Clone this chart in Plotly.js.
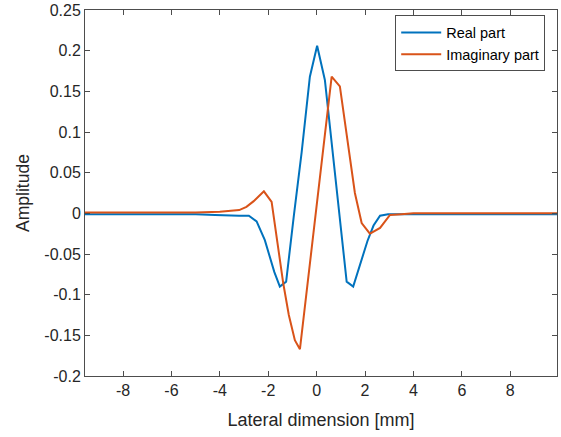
<!DOCTYPE html>
<html>
<head>
<meta charset="utf-8">
<script src="https://cdn.plot.ly/plotly-3.0.1.min.js"></script>
<style>html,body{margin:0;padding:0;background:#fff;}#chart{width:561px;height:437px;}</style>
</head>
<body>
<div id="chart"></div>
<script>
// Real part
const realX = [-9.57, -6, -5, -4.2, -3.6, -3.2, -2.8, -2.48, -2.14, -1.75, -1.52, -1.26, -0.95, -0.62, -0.28, 0.02, 0.34, 0.66, 0.96, 1.24, 1.51, 1.8, 2.1, 2.35, 2.62, 2.95, 4, 6, 9.93];
const realY = [-0.001, -0.001, -0.001, -0.002, -0.003, -0.003, -0.003, -0.010, -0.033, -0.072, -0.090, -0.084, -0.005, 0.075, 0.168, 0.206, 0.164, 0.075, -0.010, -0.084, -0.090, -0.062, -0.034, -0.015, -0.003, -0.001, -0.001, -0.001, -0.001];
// Imaginary part
const imagX = [-9.57, -6, -5, -4, -3.5, -3.2, -2.9, -2.6, -2.18, -1.86, -1.62, -1.38, -1.15, -0.9, -0.69, -0.38, -0.07, 0.27, 0.62, 0.96, 1.27, 1.58, 1.86, 2.2, 2.62, 3.03, 3.5, 4, 6, 9.93];
const imagY = [0.001, 0.001, 0.001, 0.002, 0.003, 0.004, 0.008, 0.015, 0.027, 0.014, -0.036, -0.086, -0.125, -0.156, -0.167, -0.088, -0.008, 0.078, 0.168, 0.156, 0.090, 0.025, -0.012, -0.025, -0.018, -0.002, -0.001, 0, 0, 0];

const xTickVals = [-8, -6, -4, -2, 0, 2, 4, 6, 8];
const xTickText = ['-8', '-6', '-4', '-2', '0', '2', '4', '6', '8'];
const yTickVals = [-0.2, -0.15, -0.1, -0.05, 0, 0.05, 0.1, 0.15, 0.2, 0.25];
const yTickText = ['-0.2', '-0.15', '-0.1', '-0.05', '0', '0.05', '0.1', '0.15', '0.2', '0.25'];

const traces = [
  {x: realX, y: realY, type: 'scatter', mode: 'lines', name: 'Real part',
   line: {color: '#0072BD', width: 2}},
  {x: imagX, y: imagY, type: 'scatter', mode: 'lines', name: 'Imaginary part',
   line: {color: '#D95319', width: 2}}
];

const axisCommon = {
  showline: true, linecolor: '#4d4d4d', linewidth: 1, mirror: 'ticks',
  ticks: 'inside', ticklen: 5, tickcolor: '#4d4d4d', showgrid: false, zeroline: false,
  tickfont: {family: 'Liberation Sans, Arial, sans-serif', size: 16, color: '#262626'}
};

const layout = {
  width: 561, height: 437,
  margin: {l: 85, r: 4, t: 10, b: 61},
  paper_bgcolor: '#ffffff', plot_bgcolor: '#ffffff',
  font: {family: 'Liberation Sans, Arial, sans-serif', color: '#262626'},
  showlegend: true,
  legend: {x: 0.975, y: 0.985, xanchor: 'right', yanchor: 'top',
    bordercolor: '#4d4d4d', borderwidth: 1, bgcolor: '#ffffff',
    font: {size: 14.5, color: '#000'}, itemwidth: 40, tracegroupgap: 0},
  xaxis: Object.assign({}, axisCommon, {
    range: [-9.57, 9.93], tickvals: xTickVals, ticktext: xTickText,
    title: {text: 'Lateral dimension [mm]', font: {size: 18, color: '#262626'}, standoff: 15}
  }),
  yaxis: Object.assign({}, axisCommon, {
    range: [-0.2, 0.25], tickvals: yTickVals, ticktext: yTickText,
    title: {text: 'Amplitude', font: {size: 17.5, color: '#262626'}, standoff: 10}
  })
};

Plotly.newPlot('chart', traces, layout, {displayModeBar: false, staticPlot: true});
</script>
</body>
</html>
